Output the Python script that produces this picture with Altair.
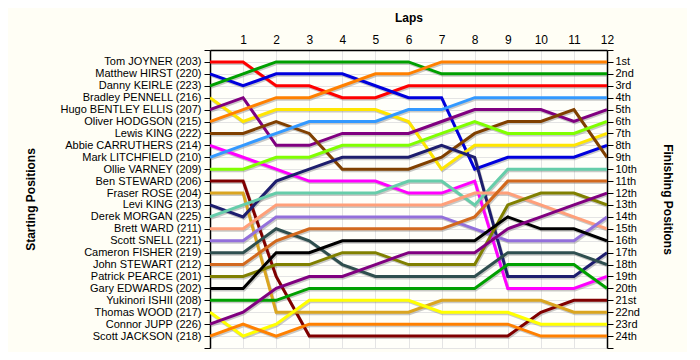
import altair as alt
import pandas as pd

laps = list(range(0, 13))

drivers = [
    "Tom JOYNER (203)", "Matthew  HIRST (220)", "Danny KEIRLE (223)", "Bradley PENNELL (216)",
    "Hugo BENTLEY ELLIS (207)", "Oliver HODGSON (215)", "Lewis KING (222)", "Abbie CARRUTHERS (214)",
    "Mark LITCHFIELD (210)", "Ollie  VARNEY (209)", "Ben STEWARD (206)", "Fraser ROSE (204)",
    "Levi KING (213)", "Derek MORGAN (225)", "Brett WARD (211)", "Scott SNELL (221)",
    "Cameron FISHER (219)", "John STEWART (212)", "Patrick PEARCE (201)", "Gary EDWARDS (202)",
    "Yukinori ISHII (208)", "Thomas WOOD (217)", "Connor JUPP (226)", "Scott JACKSON (218)",
]

colors = [
    "#FF0000", "#0000DD", "#00A000", "#FFE600",
    "#800080", "#FF8000", "#804000", "#FF00FF",
    "#3399FF", "#80FF00", "#800000", "#DAA520",
    "#1E1E6E", "#66CDAA", "#FFA07A", "#9370DB",
    "#2F4F4F", "#D2691E", "#808000", "#000000",
    "#00A000", "#FFFF00", "#800080", "#FF8000",
]

positions = [
    [1, 1, 3, 3, 4, 4, 3, 3, 3, 3, 3, 3, 3],
    [2, 3, 2, 2, 2, 3, 4, 4, 10, 9, 9, 9, 8],
    [3, 2, 1, 1, 1, 1, 1, 2, 2, 2, 2, 2, 2],
    [4, 6, 5, 5, 5, 5, 6, 10, 8, 8, 8, 8, 7],
    [5, 4, 8, 8, 7, 7, 7, 6, 5, 5, 5, 6, 5],
    [6, 5, 4, 4, 3, 2, 2, 1, 1, 1, 1, 1, 1],
    [7, 7, 6, 7, 10, 10, 10, 9, 7, 6, 6, 5, 9],
    [8, 9, 10, 11, 11, 11, 12, 12, 11, 20, 20, 20, 19],
    [9, 8, 7, 6, 6, 6, 5, 5, 4, 4, 4, 4, 4],
    [10, 10, 9, 9, 8, 8, 8, 7, 6, 7, 7, 7, 6],
    [11, 11, 19, 24, 24, 24, 24, 24, 24, 24, 22, 21, 21],
    [12, 12, 22, 22, 22, 22, 22, 21, 21, 21, 21, 22, 22],
    [13, 14, 11, 10, 9, 9, 9, 8, 9, 19, 19, 19, 17],
    [14, 13, 12, 12, 12, 12, 11, 11, 13, 10, 10, 10, 10],
    [15, 15, 13, 13, 13, 13, 13, 13, 12, 12, 13, 14, 15],
    [16, 16, 14, 14, 14, 14, 14, 14, 15, 16, 16, 16, 14],
    [17, 17, 15, 16, 18, 19, 19, 19, 19, 17, 17, 17, 18],
    [18, 18, 16, 15, 15, 15, 15, 15, 14, 11, 11, 11, 11],
    [19, 19, 18, 18, 17, 17, 18, 18, 18, 13, 12, 12, 13],
    [20, 20, 17, 17, 16, 16, 16, 16, 16, 14, 15, 15, 16],
    [21, 21, 21, 20, 20, 20, 20, 20, 20, 18, 18, 18, 20],
    [22, 24, 23, 21, 21, 21, 21, 22, 22, 22, 23, 23, 23],
    [23, 22, 20, 19, 19, 18, 17, 17, 17, 15, 14, 13, 12],
    [24, 23, 24, 23, 23, 23, 23, 23, 23, 23, 24, 24, 24],
]

finish_labels = ["1st", "2nd", "3rd", "4th", "5th", "6th", "7th", "8th", "9th", "10th",
                 "11th", "12th", "13th", "14th", "15th", "16th", "17th", "18th", "19th",
                 "20th", "21st", "22nd", "23rd", "24th"]

rows = []
for i, d in enumerate(drivers):
    for lap, p in zip(laps, positions[i]):
        rows.append({"driver": d, "idx": i, "lap": lap, "pos": p})
df = pd.DataFrame(rows)

def js_array(items):
    return "[" + ",".join("'" + s + "'" for s in items) + "]"

left_expr = js_array([""] + drivers + [""]) + "[datum.value]"
right_expr = js_array([""] + finish_labels + [""]) + "[datum.value]"

W, H = 397, 298
FONT = "Liberation Sans"
LFS = 11

xscale = alt.Scale(domain=[0, 12], nice=False, zero=False)
yscale = alt.Scale(domain=[0, 25], reverse=True, nice=False, zero=False)

x_axis = alt.Axis(
    orient="top", values=list(range(0, 13)), labelExpr="datum.value == 0 ? '' : datum.value",
    title="Laps", grid=True,
    gridColor="#E4E4E4", ticks=False, domain=True, domainColor="#000000",
    domainWidth=1.5, labelFont=FONT, labelFontSize=12, labelColor="#000000",
    labelPadding=4, titleFont=FONT, titleFontSize=12, titleFontWeight="bold",
    titleX=W / 2, titleY=-26, titleColor="#000000", labelFlush=False,
    labelOverlap=False,
)

left_axis = alt.Axis(
    orient="left", values=list(range(0, 26)), labelExpr=left_expr,
    title="Starting Positions", grid=True, gridColor="#E4E4E4",
    ticks=True, tickSize=6, tickColor="#000000", domainColor="#000000",
    domainWidth=1.5, labelFont=FONT, labelFontSize=LFS, labelColor="#000000",
    labelPadding=3, labelOverlap=False, labelFlush=False,
    titleFont=FONT, titleFontSize=12, titleFontWeight="bold",
    titleAngle=270, titleX=-180, titleY=H / 2, titleAlign="center",
    titleBaseline="middle", titleColor="#000000",
)

right_axis = alt.Axis(
    orient="right", values=list(range(0, 26)), labelExpr=right_expr,
    title="Finishing Positions", grid=False,
    ticks=True, tickSize=6, tickColor="#000000", domainColor="#000000",
    domainWidth=1.5, labelFont=FONT, labelFontSize=LFS, labelColor="#000000",
    labelPadding=2, labelOverlap=False, labelFlush=False,
    titleFont=FONT, titleFontSize=12, titleFontWeight="bold",
    titleAngle=90, titleX=60, titleY=H / 2, titleAlign="center",
    titleBaseline="middle", titleColor="#000000",
)

color_scale = alt.Scale(domain=drivers, range=colors)

base = alt.Chart(df)

shadow = base.mark_line(strokeWidth=3, color="#888888", opacity=0.45,
                        xOffset=1, yOffset=1.5, clip=True).encode(
    x=alt.X("lap:Q", scale=xscale, axis=x_axis),
    y=alt.Y("pos:Q", scale=yscale, axis=left_axis),
    detail="driver:N",
    order="lap:Q",
)

lines = base.mark_line(strokeWidth=3, clip=True).encode(
    x=alt.X("lap:Q", scale=xscale, axis=x_axis),
    y=alt.Y("pos:Q", scale=yscale, axis=left_axis),
    color=alt.Color("driver:N", scale=color_scale, legend=None),
    order="lap:Q",
)

right = base.mark_line(opacity=0).encode(
    x=alt.X("lap:Q", scale=xscale, axis=x_axis),
    y=alt.Y("pos:Q", scale=yscale, axis=right_axis),
    detail="driver:N",
)

chart = alt.layer(alt.layer(shadow, lines), right).resolve_scale(
    y="independent"
).resolve_axis(y="independent").properties(
    width=W, height=H,
    autosize=alt.AutoSizeParams(type="none"),
    padding={"left": 202, "top": 42, "right": 80, "bottom": 4},
    background="#FFFEF5",
).configure_view(stroke=None, fill="#FFFFFA")

chart.save("out.html", embed_options={"renderer": "svg", "actions": False})
